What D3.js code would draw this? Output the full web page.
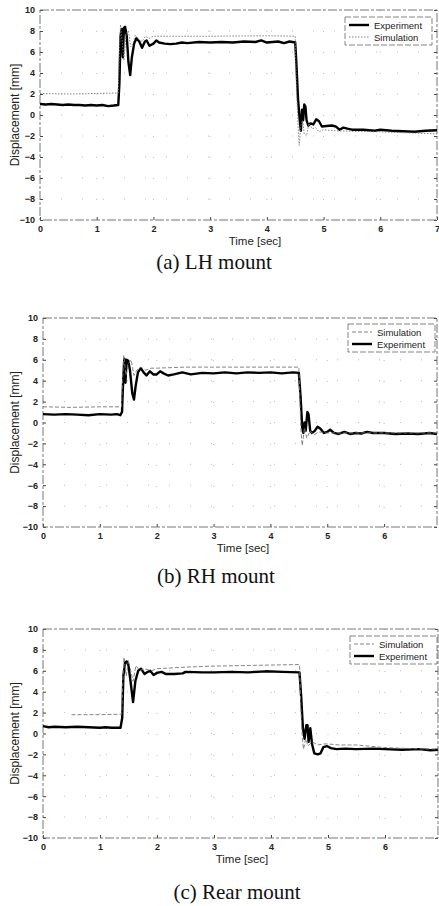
<!DOCTYPE html>
<html>
<head>
<meta charset="utf-8">
<script src="https://cdn.jsdelivr.net/npm/d3@7"></script>
<style>
  body { margin: 0; background: #fff; }
  svg { display: block; }
  .tick text { font-family: "Liberation Sans", Arial, sans-serif; font-size: 9px; font-weight: bold; fill: #222; }
  .lbl { font-family: "Liberation Sans", Arial, sans-serif; fill: #222; }
  .cap { font-family: "Liberation Serif", "Times New Roman", serif; font-size: 21px; fill: #111; }
</style>
</head>
<body>
<div id="chart"></div>
<script>
// ---- data: [time sec, displacement mm] ----
var lhExperiment = [[0,1.05],[0.1,1.0],[0.2,1.05],[0.3,1.0],[0.4,0.95],[0.5,1.0],[0.6,0.95],[0.7,0.95],[0.8,0.9],[0.9,0.95],[1.0,0.9],[1.1,0.95],[1.2,0.85],[1.3,0.9],[1.38,0.95],[1.40,3],[1.42,7.5],[1.44,8.2],[1.46,5.5],[1.48,8.3],[1.50,8.4],[1.53,7.5],[1.56,5],[1.59,3.8],[1.62,5.5],[1.66,6.8],[1.70,7.3],[1.75,7.0],[1.80,6.4],[1.85,7.0],[1.88,7.1],[1.93,6.6],[2.0,6.8],[2.05,7.1],[2.1,6.9],[2.2,6.8],[2.3,6.75],[2.4,6.8],[2.5,6.9],[2.6,6.85],[2.8,6.95],[3.0,6.9],[3.2,6.95],[3.4,6.9],[3.6,7.0],[3.8,6.95],[3.9,7.1],[4.0,6.9],[4.2,7.0],[4.3,6.85],[4.4,7.0],[4.5,6.9],[4.52,5],[4.55,1.5],[4.58,-0.5],[4.60,-1.5],[4.62,0.5],[4.64,-0.5],[4.66,1.0],[4.68,0.8],[4.70,-0.5],[4.73,-1.0],[4.77,-0.8],[4.82,-0.9],[4.87,-0.4],[4.92,-0.6],[4.97,-1.1],[5.05,-1.05],[5.15,-1.0],[5.22,-1.1],[5.28,-1.4],[5.35,-1.2],[5.42,-1.3],[5.5,-1.4],[5.7,-1.4],[5.9,-1.5],[6.0,-1.4],[6.2,-1.5],[6.4,-1.55],[6.6,-1.6],[6.8,-1.5],[7.0,-1.45]];
var lhSimulation = [[0,2.05],[0.5,2.0],[1.0,2.05],[1.38,2.1],[1.40,6],[1.42,8.6],[1.45,7],[1.48,5.2],[1.52,7.8],[1.56,8.0],[1.60,6.5],[1.64,6.8],[1.68,7.6],[1.74,7.2],[1.80,7.0],[1.86,7.5],[1.92,7.3],[2.0,7.5],[2.2,7.5],[3.0,7.5],[4.0,7.55],[4.5,7.5],[4.52,3],[4.55,-1],[4.57,-2.9],[4.60,-1.0],[4.63,-0.5],[4.66,-1.8],[4.70,-2.0],[4.74,-0.8],[4.80,-1.3],[4.86,-1.2],[4.92,-1.6],[5.0,-1.4],[5.2,-1.5],[5.5,-1.55],[6.0,-1.6],[6.5,-1.7],[7.0,-1.8]];

var rhExperiment = [[0,0.8],[0.2,0.75],[0.4,0.8],[0.6,0.75],[0.8,0.7],[1.0,0.8],[1.2,0.75],[1.3,0.8],[1.36,0.7],[1.39,1],[1.41,4],[1.43,6.1],[1.45,3.8],[1.47,6.0],[1.50,5.9],[1.53,5],[1.57,2.8],[1.60,2.2],[1.63,3.5],[1.67,4.8],[1.72,5.2],[1.77,4.8],[1.82,4.5],[1.88,4.9],[1.94,4.6],[2.0,4.6],[2.06,4.9],[2.12,4.7],[2.2,4.5],[2.3,4.6],[2.45,4.8],[2.6,4.6],[2.8,4.75],[3.0,4.7],[3.2,4.8],[3.4,4.7],[3.6,4.8],[3.8,4.75],[4.0,4.8],[4.2,4.7],[4.4,4.8],[4.5,4.75],[4.53,2.5],[4.56,-0.5],[4.58,-1.0],[4.60,0],[4.62,-0.8],[4.65,1.0],[4.67,0.8],[4.70,-0.8],[4.73,-1.0],[4.78,-0.8],[4.83,-0.4],[4.88,-0.6],[4.94,-1.0],[5.0,-0.9],[5.05,-0.7],[5.12,-1.0],[5.2,-1.1],[5.3,-0.9],[5.4,-1.1],[5.5,-1.0],[5.6,-1.05],[5.7,-0.9],[5.8,-1.0],[6.0,-1.0],[6.2,-1.1],[6.4,-1.05],[6.6,-1.1],[6.8,-1.0],[6.93,-1.1]];
var rhSimulation = [[0,1.5],[0.5,1.45],[1.0,1.5],[1.38,1.5],[1.40,4],[1.42,6.4],[1.46,4.5],[1.50,5.6],[1.55,6.0],[1.60,4.5],[1.65,5.0],[1.72,5.3],[1.80,5.0],[1.90,5.2],[2.0,5.2],[2.5,5.3],[3.0,5.3],[4.0,5.3],[4.5,5.3],[4.52,2],[4.54,-1],[4.56,-2.2],[4.60,-0.5],[4.64,-1.5],[4.70,-0.8],[4.76,-1.2],[4.85,-0.9],[5.0,-1.0],[5.5,-1.0],[6.0,-1.0],[6.5,-1.0],[6.93,-1.0]];

var rearExperiment = [[0,0.7],[0.1,0.6],[0.2,0.65],[0.4,0.6],[0.6,0.65],[0.8,0.6],[1.0,0.55],[1.1,0.6],[1.2,0.55],[1.36,0.55],[1.39,1.5],[1.41,5.5],[1.44,6.8],[1.47,6.9],[1.50,6.5],[1.54,4.8],[1.58,3.0],[1.62,5.0],[1.67,6.0],[1.72,6.2],[1.78,5.7],[1.84,5.9],[1.88,6.0],[1.94,5.6],[2.0,5.8],[2.08,5.9],[2.15,5.7],[2.3,5.7],[2.45,5.75],[2.5,5.9],[2.8,5.85],[3.0,5.85],[3.3,5.9],[3.6,5.85],[3.9,5.95],[4.2,5.9],[4.5,5.85],[4.53,3.5],[4.56,0.5],[4.59,-0.5],[4.62,0.8],[4.64,0.8],[4.66,-0.8],[4.69,0.5],[4.72,-1.0],[4.76,-1.9],[4.82,-2.0],[4.87,-1.9],[4.92,-1.3],[4.98,-1.2],[5.05,-1.4],[5.15,-1.5],[5.3,-1.45],[5.5,-1.5],[5.8,-1.45],[6.0,-1.5],[6.3,-1.55],[6.6,-1.5],[6.8,-1.6],[6.93,-1.55]];
var rearSimulation = [[0.5,1.8],[1.0,1.8],[1.38,1.85],[1.40,5],[1.42,7.3],[1.46,5.5],[1.50,7.0],[1.54,6.0],[1.58,5.0],[1.63,6.5],[1.70,6.0],[1.78,6.2],[1.90,6.0],[2.0,6.2],[2.5,6.35],[3.0,6.45],[3.5,6.5],[4.0,6.55],[4.5,6.6],[4.52,3],[4.55,-0.5],[4.57,-1.5],[4.61,-0.5],[4.65,-1.2],[4.72,-0.8],[4.82,-1.1],[4.92,-1.0],[5.0,-1.0],[5.2,-1.1],[5.5,-1.1],[6.0,-1.35],[6.5,-1.45],[6.93,-1.5]];

var yTicks = [10, 8, 6, 4, 2, 0, -2, -4, -6, -8, -10];
var xTicksLH = [0, 1, 2, 3, 4, 5, 6, 7];
var xTicksOther = [0, 1, 2, 3, 4, 5, 6];
var captions = ["(a) LH mount", "(b) RH mount", "(c) Rear mount"];
var xLabel = "Time [sec]";
var yLabel = "Displacement [mm]";

var width = 439, height = 906;

var panels = [
    { left: 40, right: 437, top: 10, bottom: 220, xmax: 7, xticks: xTicksLH,
      exp: lhExperiment, sim: lhSimulation, simFirst: false, simDash: '1.5,1.5',
      xlabX: 255, capX: 214, capY: 269, legX: 345, legY: 17 },
    { left: 43, right: 437, top: 318, bottom: 527, xmax: 6.93, xticks: xTicksOther,
      exp: rhExperiment, sim: rhSimulation, simFirst: true, simDash: '4,2',
      xlabX: 243, capX: 216, capY: 583, legX: 348, legY: 324 },
    { left: 43, right: 438, top: 629, bottom: 838, xmax: 6.93, xticks: xTicksOther,
      exp: rearExperiment, sim: rearSimulation, simFirst: true, simDash: '4,2',
      xlabX: 242, capX: 237, capY: 899, legX: 350, legY: 636 }
];

var svg = d3.select('#chart').append('svg')
    .attr('width', width)
    .attr('height', height);

panels.forEach(function(p, i) {
    var x = d3.scaleLinear().domain([0, p.xmax]).range([p.left, p.right]);
    var y = d3.scaleLinear().domain([-10, 10]).range([p.bottom, p.top]);
    var g = svg.append('g');

    // dotted grid
    g.selectAll('.vgrid').data(p.xticks.slice(1)).enter().append('line')
        .attr('x1', function(d) { return x(d); }).attr('x2', function(d) { return x(d); })
        .attr('y1', p.top).attr('y2', p.bottom)
        .style('stroke', '#aaa').style('stroke-width', 0.8).style('stroke-dasharray', '1,20');
    g.selectAll('.hgrid').data(yTicks.slice(1, -1)).enter().append('line')
        .attr('x1', p.left).attr('x2', p.right)
        .attr('y1', function(d) { return y(d); }).attr('y2', function(d) { return y(d); })
        .style('stroke', '#aaa').style('stroke-width', 0.8).style('stroke-dasharray', '1,20');

    // axes
    g.append('g')
        .attr('transform', 'translate(0,' + p.bottom + ')')
        .call(d3.axisBottom(x).tickValues(p.xticks).tickSize(-3).tickPadding(6).tickFormat(d3.format('d')))
        .call(function(a) { a.select('.domain').remove(); a.selectAll('line').style('stroke', '#444'); });
    g.append('g')
        .attr('transform', 'translate(' + p.left + ',0)')
        .call(d3.axisLeft(y).tickValues(yTicks).tickSize(-3).tickPadding(5).tickFormat(d3.format('d')))
        .call(function(a) { a.select('.domain').remove(); a.selectAll('line').style('stroke', '#444'); });
    g.append('g')
        .attr('transform', 'translate(' + p.right + ',0)')
        .call(d3.axisRight(y).tickValues(yTicks).tickSize(-3).tickFormat(''))
        .call(function(a) { a.select('.domain').remove(); a.selectAll('line').style('stroke', '#444'); });

    // box
    g.append('rect')
        .attr('x', p.left).attr('y', p.top)
        .attr('width', p.right - p.left).attr('height', p.bottom - p.top)
        .style('fill', 'none').style('stroke', '#666').style('stroke-width', 0.9)
        .style('stroke-dasharray', '9,2,3,2');

    var line = d3.line()
        .x(function(d) { return x(d[0]); })
        .y(function(d) { return y(d[1]); });

    g.append('path').datum(p.exp)
        .attr('d', line)
        .style('fill', 'none').style('stroke', '#000').style('stroke-width', 2.4)
        .style('stroke-linejoin', 'round');
    g.append('path').datum(p.sim)
        .attr('d', line)
        .style('fill', 'none').style('stroke', '#777').style('stroke-width', 0.9)
        .style('stroke-dasharray', p.simDash);

    // labels
    g.append('text').attr('class', 'lbl')
        .attr('x', p.xlabX).attr('y', p.bottom + 25)
        .attr('text-anchor', 'middle').style('font-size', '11.5px')
        .text(xLabel);
    g.append('text').attr('class', 'lbl')
        .attr('transform', 'translate(19,' + ((p.top + p.bottom) / 2) + ') rotate(-90)')
        .attr('text-anchor', 'middle').style('font-size', '12px')
        .text(yLabel);
    g.append('text').attr('class', 'cap')
        .attr('x', p.capX).attr('y', p.capY)
        .attr('text-anchor', 'middle')
        .text(captions[i]);

    // legend
    var items = [
        { name: 'Experiment', w: 2.4, c: '#000', dash: null },
        { name: 'Simulation', w: 0.9, c: '#777', dash: p.simDash }
    ];
    if (p.simFirst) items.reverse();
    var leg = g.append('g').attr('transform', 'translate(' + p.legX + ',' + p.legY + ')');
    leg.append('rect')
        .attr('width', 87).attr('height', 28)
        .style('fill', '#fff').style('stroke', '#666').style('stroke-width', 0.8)
        .style('stroke-dasharray', '6,2');
    leg.selectAll('.item').data(items).enter().append('g')
        .attr('transform', function(d, j) { return 'translate(0,' + (8 + j * 12) + ')'; })
        .each(function(d) {
            var it = d3.select(this);
            it.append('line').attr('x1', 4).attr('x2', 24).attr('y1', 0).attr('y2', 0)
                .style('stroke', d.c).style('stroke-width', d.w)
                .style('stroke-dasharray', d.dash);
            it.append('text').attr('class', 'lbl')
                .attr('x', 29).attr('y', 3.5).style('font-size', '9.5px')
                .text(d.name);
        });
});
</script>
</body>
</html>
